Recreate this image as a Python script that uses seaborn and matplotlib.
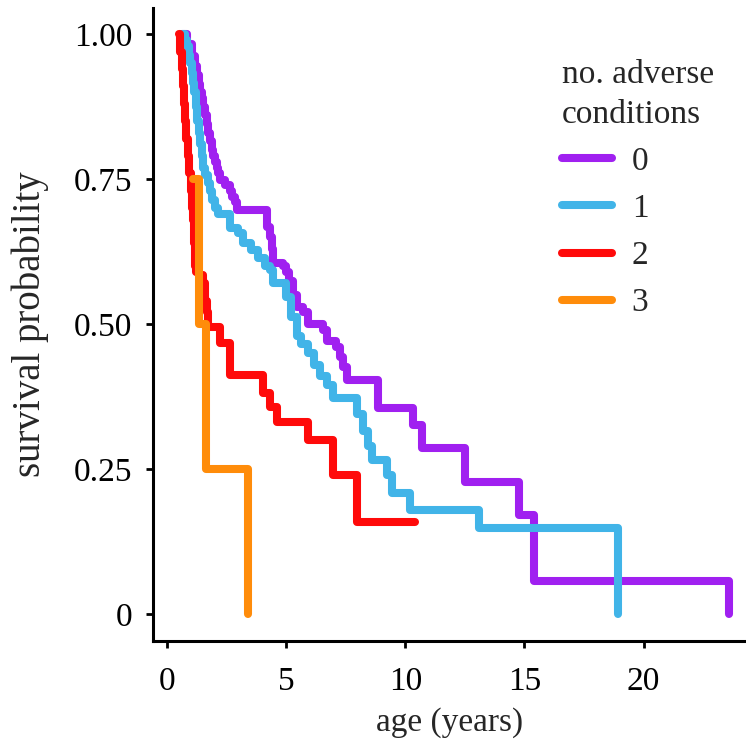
import numpy as np
import pandas as pd
import seaborn as sns
import matplotlib
matplotlib.use("Agg")
import matplotlib.pyplot as plt

# ---- data ----
groups = ["0", "1", "2", "3"]
colors = ["#A020F0", "#41B4E8", "#FF0A0A", "#FF8C0A"]

t0 = [0.63, 0.84, 1.05, 1.18, 1.25, 1.32, 1.39, 1.45, 1.51, 1.6, 1.66, 1.72, 1.81, 1.87,
      1.93, 2.02, 2.08, 2.14, 2.23, 2.44, 2.65, 2.73, 2.86, 2.94,
      4.2, 4.3, 4.4, 4.45, 4.87, 5.0, 5.1, 5.3, 5.46, 5.7, 5.9,
      6.55, 6.7, 7.1, 7.27, 7.4, 7.56, 8.83, 10.34, 10.71, 12.52, 14.75, 15.38, 23.57]
s0 = [1.0, 0.984, 0.962, 0.945, 0.93, 0.915, 0.9, 0.89, 0.875, 0.86, 0.845, 0.83, 0.815, 0.80,
      0.79, 0.78, 0.77, 0.76, 0.748, 0.74, 0.73, 0.72, 0.71, 0.697,
      0.667, 0.65, 0.63, 0.605, 0.60, 0.59, 0.575, 0.55, 0.53, 0.52, 0.50,
      0.49, 0.47, 0.46, 0.443, 0.426, 0.403, 0.355, 0.326, 0.286, 0.228, 0.171, 0.057, 0.0]

t1 = [0.63, 0.75, 0.84, 0.9, 0.97, 1.03, 1.09, 1.14, 1.2, 1.26, 1.32, 1.38, 1.44, 1.51,
      1.6, 1.7, 1.8, 1.89, 2.0, 2.14, 2.65, 2.97, 3.2, 3.5, 3.8,
      4.1, 4.33, 4.45, 5.0, 5.2, 5.45, 5.6, 5.9, 6.17, 6.4, 6.7, 6.95, 7.95, 8.2, 8.45,
      8.6, 9.24, 9.45, 10.21, 13.07, 18.91]
s1 = [1.0, 0.99, 0.98, 0.965, 0.95, 0.933, 0.916, 0.9, 0.875, 0.85, 0.83, 0.81, 0.79, 0.77,
      0.757, 0.743, 0.729, 0.714, 0.70, 0.69, 0.666, 0.657, 0.64, 0.628, 0.614,
      0.60, 0.593, 0.571, 0.547, 0.512, 0.48, 0.465, 0.45, 0.43, 0.41, 0.395, 0.372, 0.345, 0.315, 0.29,
      0.265, 0.24, 0.209, 0.179, 0.148, 0.0]

t2 = [0.5, 0.55, 0.6, 0.65, 0.7, 0.75, 0.8, 0.86, 0.92, 0.98, 1.04, 1.09, 1.13, 1.18,
      1.2, 1.35, 1.5, 1.58, 1.65, 1.72,
      2.23, 2.65, 4.03, 4.33, 4.62, 5.92, 6.97, 7.98, 10.42]
s2 = [1.0, 0.97, 0.94, 0.91, 0.88, 0.85, 0.82, 0.79, 0.76, 0.73, 0.70, 0.68, 0.64, 0.60,
      0.59, 0.585, 0.57, 0.54, 0.52, 0.495,
      0.467, 0.412, 0.381, 0.357, 0.331, 0.30, 0.24, 0.159, 0.159]

t3 = [1.08, 1.34, 1.64, 3.4]
s3 = [0.75, 0.5, 0.25, 0.0]

x_ticks = [0, 5, 10, 15, 20]
y_ticks = [0, 0.25, 0.5, 0.75, 1.0]
y_tick_labels = ["0", "0.25", "0.50", "0.75", "1.00"]

frames = []
for g, t, s in zip(groups, [t0, t1, t2, t3], [s0, s1, s2, s3]):
    assert len(t) == len(s)
    frames.append(pd.DataFrame({"age": t, "surv": s, "group": g}))
df = pd.concat(frames, ignore_index=True)

# ---- plot ----
sns.set_style("white")
plt.rcParams["font.family"] = ["Liberation Serif", "DejaVu Serif"]
FS = 24

fig = plt.figure(figsize=(7.46, 7.42), dpi=100)
ax = fig.add_axes([0.205, 0.136, 0.795, 0.853])

sns.lineplot(data=df, x="age", y="surv", hue="group", hue_order=groups,
             palette=dict(zip(groups, colors)), estimator=None, sort=False,
             drawstyle="steps-post", linewidth=5.8, ax=ax, legend=True)

ax.set_xlim(-0.6, 24.3)
ax.set_ylim(-0.047, 1.045)
ax.set_xticks(x_ticks)
ax.set_xticklabels([str(v) for v in x_ticks])
ax.set_yticks(y_ticks)
ax.set_yticklabels(y_tick_labels)

for side in ["top", "right"]:
    ax.spines[side].set_visible(False)
for side in ["left", "bottom"]:
    ax.spines[side].set_color("black")
    ax.spines[side].set_linewidth(2.2)

ax.tick_params(axis="both", which="major", direction="out", length=5, width=2,
               color="black", labelsize=FS, labelcolor="black",
               left=True, bottom=True)
ax.tick_params(axis="x", pad=13)
ax.tick_params(axis="y", pad=10)
ax.set_xlabel("age (years)", fontsize=FS, labelpad=8)
ax.set_ylabel("survival probability", fontsize=28, labelpad=18)

handles, labels = ax.get_legend_handles_labels()
for h in handles:
    h.set_linewidth(5.8)
leg = ax.legend(handles, labels, title="no. adverse\nconditions", loc="upper left",
                bbox_to_anchor=(0.753, 0.92), bbox_transform=fig.transFigure,
                frameon=False, fontsize=FS, title_fontsize=FS, handlelength=1.5,
                handletextpad=0.6, labelspacing=0.5, borderaxespad=0, borderpad=0)
leg.get_title().set_linespacing(1.4)
leg._legend_box.align = "left"

fig.savefig("out.png", dpi=100)
